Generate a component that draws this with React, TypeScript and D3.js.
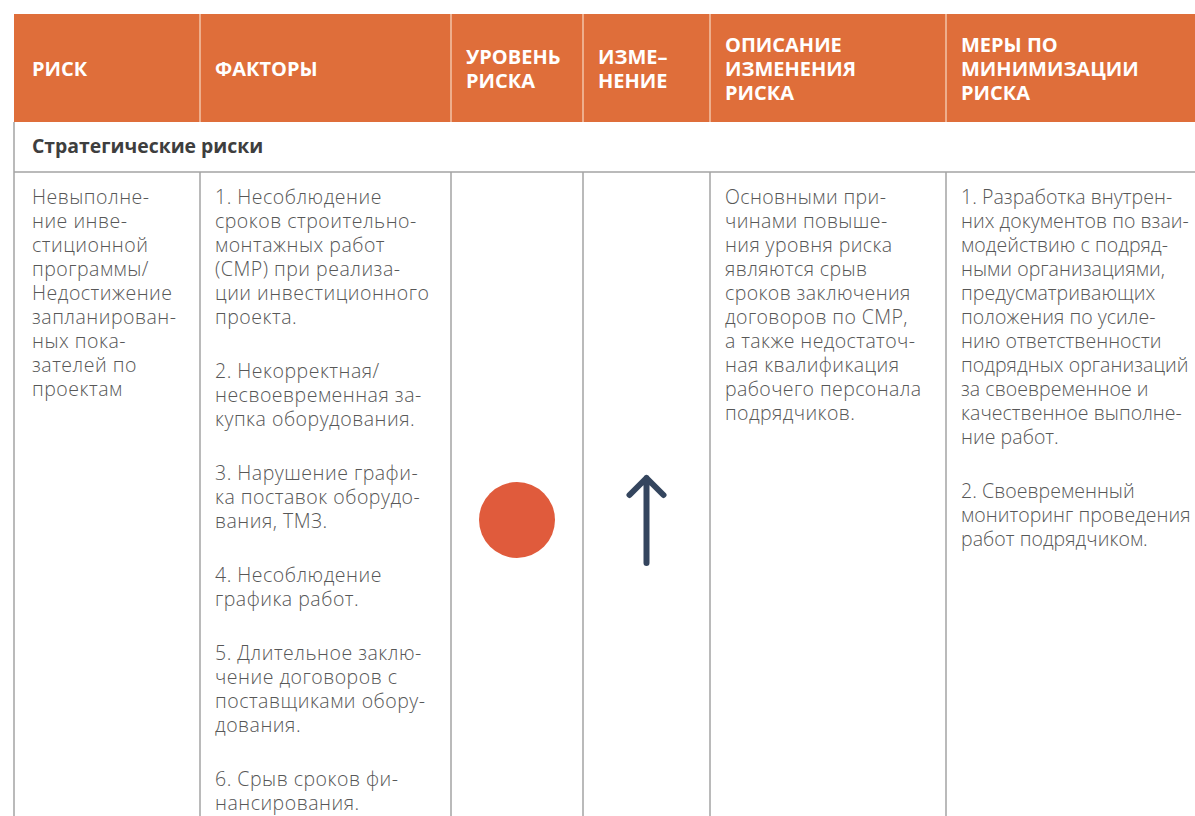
import React from 'react';
import * as d3 from 'd3';

// column headers (each entry = lines of the header cell)
const headers: string[][] = [
  ['РИСК'],
  ['ФАКТОРЫ'],
  ['УРОВЕНЬ', 'РИСКА'],
  ['ИЗМЕ–', 'НЕНИЕ'],
  ['ОПИСАНИЕ', 'ИЗМЕНЕНИЯ', 'РИСКА'],
  ['МЕРЫ ПО', 'МИНИМИЗАЦИИ', 'РИСКА'],
];

const sectionTitle = 'Стратегические риски';

const riskName: string[] = [
  'Невыполне-', 'ние инве-', 'стиционной', 'программы/', 'Недостижение',
  'запланирован-', 'ных пока-', 'зателей по', 'проектам',
];

const factors: string[][] = [
  ['1. Несоблюдение', 'сроков строительно-', 'монтажных работ', '(СМР) при реализа-', 'ции инвестиционного', 'проекта.'],
  ['2. Некорректная/', 'несвоевременная за-', 'купка оборудования.'],
  ['3. Нарушение графи-', 'ка поставок оборудо-', 'вания, ТМЗ.'],
  ['4. Несоблюдение', 'графика работ.'],
  ['5. Длительное заклю-', 'чение договоров с', 'поставщиками обору-', 'дования.'],
  ['6. Срыв сроков фи-', 'нансирования.'],
];

const riskLevel = 'high';
const riskChange = 'up';

const description: string[][] = [
  ['Основными при-', 'чинами повыше-', 'ния уровня риска', 'являются срыв', 'сроков заключения',
   'договоров по СМР,', 'а также недостаточ-', 'ная квалификация', 'рабочего персонала', 'подрядчиков.'],
];

const measures: string[][] = [
  ['1. Разработка внутрен-', 'них документов по взаи-', 'модействию с подряд-', 'ными организациями,',
   'предусматривающих', 'положения по усиле-', 'нию ответственности', 'подрядных организаций',
   'за своевременное и', 'качественное выполне-', 'ние работ.'],
  ['2. Своевременный', 'мониторинг проведения', 'работ подрядчиком.'],
];

const W = 1195;
const H = 816;
const colEdges = [14, 200, 451, 583, 710, 946, 1210];
const headTop = 14;
const headBottom = 122;
const sectionBottom = 172;
const firstLine = 196;
const lineH = 24;
const paraGap = 30;

const ORANGE = '#DF6E3A';
const TEXT = '#575757';
const BORDER = '#a3a3a3';

function layoutParas(paras: string[][]) {
  const out: { text: string; y: number }[] = [];
  let y = firstLine;
  paras.forEach((p, pi) => {
    if (pi > 0) y += paraGap;
    p.forEach((t) => {
      out.push({ text: t, y });
      y += lineH;
    });
  });
  return out;
}

export default function App() {
  const col = d3.scaleOrdinal<number, number>().domain(d3.range(6)).range(colEdges.slice(0, 6));
  const colEnd = (i: number) => colEdges[i + 1];
  const padX = (i: number) => (i === 0 ? 18 : 15);
  const headMid = (headTop + headBottom) / 2;

  const riskLines = layoutParas([riskName]);
  const factorLines = layoutParas(factors);
  const descLines = layoutParas(description);
  const measureLines = layoutParas(measures);

  const levelCx = (col(2) + colEnd(2)) / 2;
  const changeCx = (col(3) + colEnd(3)) / 2;
  const iconY = 520;
  const levelColor = d3.scaleOrdinal<string, string>().domain(['low', 'medium', 'high']).range(['#8dbb4a', '#f2b233', '#E05B3C']);

  const arrowTop = iconY - 42;
  const arrowBottom = iconY + 43;
  const arrowPath = d3.path();
  arrowPath.moveTo(changeCx, arrowBottom);
  arrowPath.lineTo(changeCx, arrowTop);
  arrowPath.moveTo(changeCx - 17, arrowTop + 17);
  arrowPath.lineTo(changeCx, arrowTop);
  arrowPath.lineTo(changeCx + 17, arrowTop + 17);

  const bodyFont = "'Open Sans', sans-serif";

  return (
    <svg width={W} height={H} style={{ position: 'absolute', left: 0, top: 0, background: '#fff' }}>
      <rect x={0} y={0} width={W} height={H} fill="#fff" />
      {/* header */}
      <rect x={colEdges[0]} y={headTop} width={W - colEdges[0]} height={headBottom - headTop} fill={ORANGE} />
      {colEdges.slice(1, 6).map((x, i) => (
        <line key={'hl' + i} x1={x} x2={x} y1={headTop} y2={headBottom} stroke="#f3c4a8" strokeWidth={1.5} />
      ))}
      {headers.map((lines, i) => {
        const y0 = headMid - ((lines.length - 1) * lineH) / 2;
        return (
          <text key={'h' + i} fill="#fff" fontFamily={bodyFont} fontWeight={700} fontSize={20}
            letterSpacing={0} dominantBaseline="central">
            {lines.map((t, j) => (
              <tspan key={j} x={col(i) + padX(i)} y={y0 + j * lineH}>{t}</tspan>
            ))}
          </text>
        );
      })}

      {/* section row */}
      <line x1={colEdges[0]} x2={colEdges[0]} y1={headBottom} y2={H} stroke={BORDER} strokeWidth={1.5} />
      <line x1={colEdges[0]} x2={W} y1={sectionBottom} y2={sectionBottom} stroke={BORDER} strokeWidth={1.5} />
      <text x={col(0) + 18} y={145} fill="#3e3e3e" fontFamily={bodyFont}
        fontWeight={700} fontSize={19.4} dominantBaseline="central">{sectionTitle}</text>

      {/* body column lines */}
      {colEdges.slice(1, 6).map((x, i) => (
        <line key={'bl' + i} x1={x} x2={x} y1={sectionBottom} y2={H} stroke={BORDER} strokeWidth={1.5} />
      ))}

      {[
        { lines: riskLines, c: 0, ls: 0.5 },
        { lines: factorLines, c: 1, ls: 0.5 },
        { lines: descLines, c: 4, ls: 0.4 },
        { lines: measureLines, c: 5, ls: 0.05 },
      ].map((blk) => (
        <text key={'c' + blk.c} fill={TEXT} fontFamily={bodyFont} fontWeight={300} fontSize={19.5}
          dominantBaseline="central" letterSpacing={blk.ls}>
          {blk.lines.map((l, j) => (
            <tspan key={j} x={col(blk.c) + padX(blk.c)} y={l.y}>{l.text}</tspan>
          ))}
        </text>
      ))}

      {/* level & change */}
      <circle cx={levelCx} cy={iconY} r={38} fill={levelColor(riskLevel)} />
      {riskChange === 'up' && (
        <path d={arrowPath.toString()} fill="none" stroke="#34455e" strokeWidth={6}
          strokeLinecap="round" strokeLinejoin="round" />
      )}
    </svg>
  );
}
